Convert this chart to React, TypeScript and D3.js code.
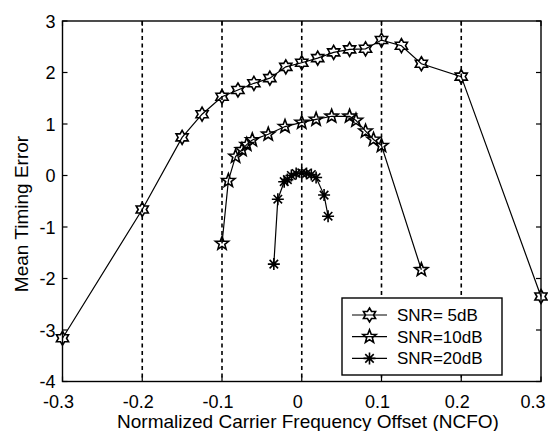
import React from 'react';
import * as d3 from 'd3';

const xTicks = [-0.3, -0.2, -0.1, 0, 0.1, 0.2, 0.3];
const xTickLabels = ['-0.3', '-0.2', '-0.1', '0', '0.1', '0.2', '0.3'];
const yTicks = [-4, -3, -2, -1, 0, 1, 2, 3];
const yTickLabels = ['-4', '-3', '-2', '-1', '0', '1', '2', '3'];
const gridX = [-0.2, -0.1, 0, 0.1, 0.2];

const snr5X = [-0.3, -0.2, -0.15, -0.125, -0.1, -0.08, -0.06, -0.04, -0.02, 0, 0.02, 0.04, 0.06, 0.08, 0.1, 0.125, 0.15, 0.2, 0.3];
const snr5Y = [-3.16, -0.66, 0.74, 1.19, 1.53, 1.66, 1.79, 1.89, 2.11, 2.19, 2.28, 2.39, 2.45, 2.46, 2.63, 2.52, 2.17, 1.92, -2.35];

const snr10X = [-0.1, -0.092, -0.083, -0.075, -0.069, -0.062, -0.042, -0.021, 0, 0.018, 0.0375, 0.06, 0.068, 0.08, 0.09, 0.1, 0.15];
const snr10Y = [-1.32, -0.1, 0.37, 0.5, 0.6, 0.69, 0.8, 0.95, 1.03, 1.09, 1.15, 1.15, 1.07, 0.86, 0.7, 0.58, -1.83];

const snr20X = [-0.035, -0.03, -0.022, -0.018, -0.013, -0.007, 0, 0.006, 0.012, 0.018, 0.028, 0.033];
const snr20Y = [-1.72, -0.46, -0.12, -0.08, 0.0, 0.04, 0.05, 0.04, 0.02, -0.04, -0.38, -0.79];

const legendLabels = ['SNR= 5dB', 'SNR=10dB', 'SNR=20dB'];

const W = 548, H = 431;
const L = 62.5, R = 541, T = 21, B = 381.5;
const FONT = "'Liberation Sans', Arial, sans-serif";

function starPath(n: number, Ro: number, Ri: number) {
  const pts: [number, number][] = [];
  for (let k = 0; k < 2 * n; k++) {
    const a = (-90 + (k * 180) / n) * Math.PI / 180;
    const r = k % 2 === 0 ? Ro : Ri;
    pts.push([r * Math.cos(a), r * Math.sin(a)]);
  }
  return d3.line()(pts) + 'Z';
}
function asteriskPath(r: number) {
  let p = '';
  for (let k = 0; k < 4; k++) {
    const a = (k * 45) * Math.PI / 180;
    p += `M${-r * Math.cos(a)},${-r * Math.sin(a)}L${r * Math.cos(a)},${r * Math.sin(a)}`;
  }
  return p;
}

const markers = [
  starPath(6, 7, 7 / Math.sqrt(3)),
  starPath(5, 7, 7 * 0.42),
  asteriskPath(6),
];

export default function App() {
  const x = d3.scaleLinear().domain([-0.3, 0.3]).range([L, R]);
  const y = d3.scaleLinear().domain([-4, 3]).range([B, T]);
  const line = d3.line<[number, number]>().x(d => x(d[0])).y(d => y(d[1]));
  const series = [
    snr5X.map((v, i) => [v, snr5Y[i]] as [number, number]),
    snr10X.map((v, i) => [v, snr10Y[i]] as [number, number]),
    snr20X.map((v, i) => [v, snr20Y[i]] as [number, number]),
  ];
  const lx = 342, ly = 298, lw = 160, lh = 77;
  return (
    <svg width={W} height={H} style={{ position: 'absolute', left: 0, top: 0, background: '#fff' }} fontFamily={FONT}>
      <rect x={0} y={0} width={W} height={H} fill="#fff" />
      {gridX.map((g, i) => (
        <line key={i} x1={x(g)} x2={x(g)} y1={T} y2={B} stroke="#000" strokeWidth={1.6} strokeDasharray="4,3.5" />
      ))}
      {series.map((s, si) => (
        <g key={si}>
          <path d={line(s) || ''} fill="none" stroke="#000" strokeWidth={1.2} />
          {s.map((d, i) => (
            <path key={i} d={markers[si]} transform={`translate(${x(d[0])},${y(d[1])})`} fill="none" stroke="#000" strokeWidth={1.6} strokeLinejoin="miter" />
          ))}
        </g>
      ))}
      <rect x={L} y={T} width={R - L} height={B - T} fill="none" stroke="#000" strokeWidth={1.4} />
      {xTicks.map((t, i) => (
        <g key={i}>
          <line x1={x(t)} x2={x(t)} y1={B} y2={B - 5} stroke="#000" strokeWidth={1.2} />
          <line x1={x(t)} x2={x(t)} y1={T} y2={T + 5} stroke="#000" strokeWidth={1.2} />
          <text x={i === xTicks.length - 1 ? x(t) - 8 : x(t) - 4} y={407.5} fontSize={18} textAnchor="middle" fill="#000">{xTickLabels[i]}</text>
        </g>
      ))}
      {yTicks.map((t, i) => (
        <g key={i}>
          <line x1={L} x2={L + 5} y1={y(t)} y2={y(t)} stroke="#000" strokeWidth={1.2} />
          <line x1={R} x2={R - 5} y1={y(t)} y2={y(t)} stroke="#000" strokeWidth={1.2} />
          <text x={L - 7} y={y(t) + 6.5} fontSize={18} textAnchor="end" fill="#000">{yTickLabels[i]}</text>
        </g>
      ))}
      <text x={308} y={427.5} fontSize={19} textAnchor="middle" fill="#000">Normalized Carrier Frequency Offset (NCFO)</text>
      <text transform={`translate(28,214) rotate(-90)`} fontSize={19} textAnchor="middle" fill="#000">Mean Timing Error</text>
      <g>
        <rect x={lx} y={ly} width={lw} height={lh} fill="#fff" stroke="#000" strokeWidth={1.4} />
        {legendLabels.map((lab, i) => {
          const yy = ly + 17 + i * 21.7;
          return (
            <g key={i}>
              <line x1={352} x2={387} y1={yy} y2={yy} stroke="#000" strokeWidth={1.2} />
              <path d={markers[i]} transform={`translate(369.5,${yy})`} fill="none" stroke="#000" strokeWidth={1.6} />
              <text x={397} y={yy + 6} fontSize={17} fill="#000">{lab}</text>
            </g>
          );
        })}
      </g>
    </svg>
  );
}
